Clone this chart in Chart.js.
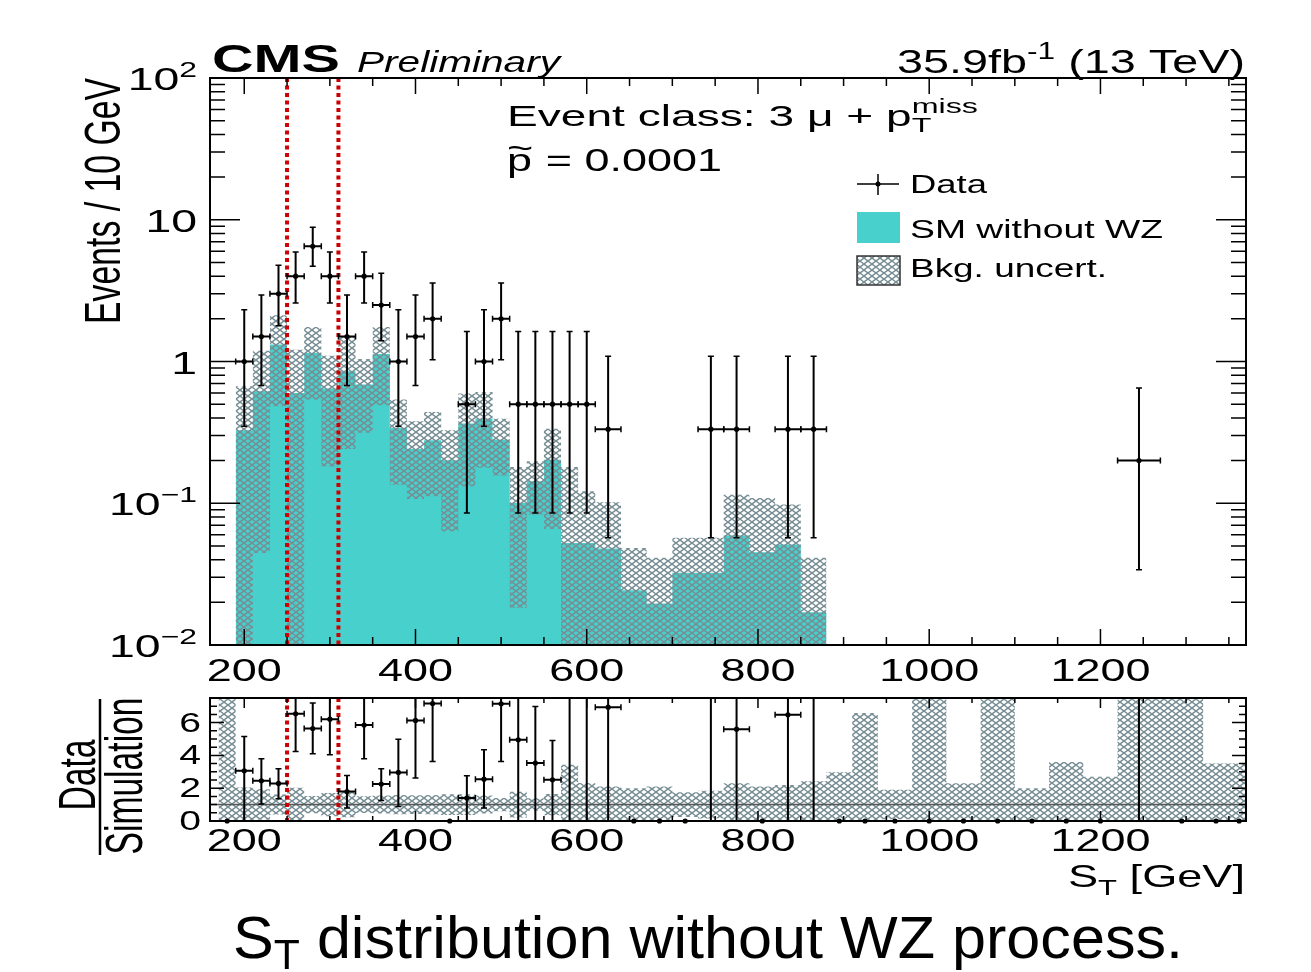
<!DOCTYPE html>
<html>
<head>
<meta charset="utf-8">
<script src="https://cdn.jsdelivr.net/npm/chart.js@4.4.0/dist/chart.umd.min.js"></script>
<style>
body { margin: 0; background: #fff; }
#wrap { position: relative; width: 1311px; height: 972px; }
canvas { position: absolute; left: 0; top: 0; }
</style>
</head>
<body>
<div id="wrap">
  <canvas id="ratio" width="1311" height="972"></canvas>
  <canvas id="main" width="1311" height="972"></canvas>
</div>
<script>
// ---- values ----
const xTickLabels = [200, 400, 600, 800, 1000, 1200];
const yTickDecades = [-2, -1, 0, 1, 2];
const ratioTickLabels = [0, 2, 4, 6];
const windowEdges = [250, 310]; // red dotted lines (GeV)

// simulation without WZ, events / 10 GeV, bins given by their edges
const mcEdges = [190, 210, 230, 250, 270, 290, 310, 330, 350, 370, 390, 410, 430, 450, 470, 490, 510, 530, 550, 570, 590, 610,
                 640, 670, 700, 730, 760, 790, 820, 850, 880];
const mcValues = [0.327, 0.617, 1.316, 0.600, 1.15, 0.644, 0.853, 0.687, 1.13, 0.340, 0.241, 0.278, 0.201, 0.365, 0.394, 0.281,
                  0.1006, 0.143, 0.203, 0.0525, 0.0525, 0.0479, 0.0243, 0.0196, 0.0323, 0.0323, 0.0592, 0.0451, 0.0511, 0.0170];
// background uncertainty band (0 = reaches below the axis)
const uncHigh = [0.668, 1.19, 2.12, 1.21, 1.75, 1.10, 1.51, 1.04, 1.75, 0.539, 0.379, 0.441, 0.327, 0.594, 0.610, 0.394,
                 0.180, 0.198, 0.335, 0.180, 0.1214, 0.1015, 0.0484, 0.0412, 0.057, 0.057, 0.115, 0.109, 0.0978, 0.0412];
const uncLow = [0, 0.0446, 0.483, 0, 0.539, 0.182, 0.241, 0.314, 0.491, 0.135, 0.107, 0.112, 0.0634, 0.132, 0.178, 0.157,
                0.0183, 0.0832, 0.0659, 0, 0, 0, 0, 0, 0, 0, 0, 0, 0, 0];

// data points
const dataX = [200, 220, 240, 260, 280, 300, 320, 340, 360, 380, 400, 420, 460, 480, 500, 520, 540, 560, 580, 600,
               625, 745, 775, 835, 865, 1245];
const dataHalfW = [10, 10, 10, 10, 10, 10, 10, 10, 10, 10, 10, 10, 10, 10, 10, 10, 10, 10, 10, 10, 15, 15, 15, 15, 15, 25];
const dataY = [1, 1.5, 3, 4, 6.5, 4, 1.5, 4, 2.5, 1, 1.5, 2, 0.5, 1, 2, 0.5, 0.5, 0.5, 0.5, 0.5,
               0.333, 0.333, 0.333, 0.333, 0.333, 0.2];
const dataLo = [0.349, 0.676, 1.79, 2.59, 4.69, 2.59, 0.676, 2.59, 1.40, 0.349, 0.676, 1.03, 0.0855, 0.349, 1.03, 0.0855,
                0.0855, 0.0855, 0.0855, 0.0855, 0.057, 0.057, 0.057, 0.057, 0.057, 0.034];
const dataHi = [2.32, 2.95, 4.77, 5.93, 8.84, 5.93, 2.95, 5.93, 4.19, 2.32, 2.95, 3.58, 1.63, 2.32, 3.58, 1.63,
                1.63, 1.63, 1.63, 1.63, 1.088, 1.088, 1.088, 1.088, 1.088, 0.651];

// ratio panel: data / simulation
const ratioX = [180, 200, 220, 240, 260, 280, 300, 320, 340, 360, 380, 400, 420, 440, 460, 480, 500, 520, 540, 560, 580, 600,
                625, 655, 685, 715, 745, 775, 805, 835, 865, 895, 925, 960, 1000, 1040, 1080, 1120, 1160, 1200, 1245, 1295, 1335, 1362];
const ratioHalfW = [10, 10, 10, 10, 10, 10, 10, 10, 10, 10, 10, 10, 10, 10, 10, 10, 10, 10, 10, 10, 10, 10,
                    15, 15, 15, 15, 15, 15, 15, 15, 15, 15, 15, 20, 20, 20, 20, 20, 20, 20, 25, 25, 15, 10];
const ratioY = [0, 3.06, 2.45, 2.29, 6.54, 5.64, 6.21, 1.80, 5.85, 2.25, 2.96, 6.13, 7.16, 0, 1.40, 2.55, 7.15, 4.95, 3.53, 2.51, 9.5, 9.5,
                6.94, 0, 0, 0, 10.3, 5.60, 0, 6.48, 19.6, 0, 0, 0, 0, 0, 0, 0, 0, 0, 50, 0, 0, 0];
const ratioLo = [0, 0, 1.03, 1.35, 4.24, 4.10, 4.04, 0.79, 3.79, 1.25, 0.88, 2.62, 3.63, 0, 0, 0.79, 3.63, 0, 0, 0, 0, 0,
                 0, 0, 0, 0, 0, 0, 0, 0, 0, 0, 0, 0, 0, 0, 0, 0, 0, 0, 0, 0, 0, 0];
const ratioHi = [0, 5.15, 3.79, 3.18, 9, 7.19, 9, 2.77, 9, 3.18, 4.99, 9, 9, 0, 2.76, 4.34, 9, 9, 6.98, 4.91, 9, 9,
                 9, 0, 0, 0, 11, 9, 0, 9, 20, 0, 0, 0, 0, 0, 0, 0, 0, 0, 60, 0, 0, 0];
// relative background uncertainty in the ratio panel (upper edge)
const bandEdges = [170, 190, 210, 230, 250, 270, 290, 310, 330, 350, 370, 390, 410, 430, 450, 470, 490, 510, 530, 550, 570, 590, 610,
                   640, 670, 700, 730, 760, 790, 820, 850, 880, 910, 940, 980, 1020, 1060, 1100, 1140, 1180, 1220, 1240, 1320, 1370];
const bandHigh = [9, 2.04, 1.93, 1.61, 2.02, 1.52, 1.71, 1.77, 1.51, 1.55, 1.59, 1.57, 1.59, 1.63, 1.63, 1.55, 1.40, 1.79, 1.38, 1.65, 3.43, 2.31,
                  2.1, 1.99, 2.10, 1.76, 1.85, 2.3, 2.1, 2.2, 2.42, 2.97, 6.58, 1.9, 9, 2.3, 9, 2.0, 3.6, 2.7, 9, 7.6, 3.5];

const FONT = '"Liberation Sans", Arial, Helvetica, sans-serif';
const CYAN = '#48d1cc';
const SX = 1.45; // the figure is stretched horizontally

function steps(edges, vals) {
    const pts = [];
    for (let i = 0; i < vals.length; i++) pts.push({x: edges[i], y: vals[i]});
    pts.push({x: edges[edges.length - 1], y: vals[vals.length - 1]});
    return pts;
}

function hatchPattern(ctx) {
    const c = document.createElement('canvas');
    c.width = 8; c.height = 6;
    const g = c.getContext('2d');
    g.strokeStyle = '#778d94';
    g.lineWidth = 1.4;
    g.beginPath();
    g.moveTo(-8, -6); g.lineTo(16, 12);
    g.moveTo(-8, 12); g.lineTo(16, -6);
    g.stroke();
    return ctx.createPattern(c, 'repeat');
}

function fontOf(p) {
    return (p.style || '') + ' ' + p.size + 'px ' + FONT;
}

// text made of pieces (for sub/superscripts), squeezed or stretched in x
function richText(ctx, parts, x, y, align, opt) {
    const widths = parts.map(function(p) {
        ctx.font = fontOf(p);
        let w = ctx.measureText(p.t).width;
        if (p.over) {
            ctx.font = fontOf(p.over);
            w = Math.max(w, ctx.measureText(p.over.t).width);
        }
        return w;
    });
    const total = widths.reduce((a, b) => a + b, 0);
    const sx = opt.width ? opt.width / total : (opt.sx || 1);
    let x0 = x;
    if (align === 'right') x0 = x - total * sx;
    else if (align === 'center') x0 = x - total * sx / 2;
    ctx.save();
    ctx.translate(x0, y);
    ctx.scale(sx, 1);
    ctx.textAlign = 'left';
    ctx.textBaseline = 'alphabetic';
    ctx.fillStyle = '#000';
    let cx = 0;
    parts.forEach(function(p, i) {
        ctx.font = fontOf(p);
        ctx.fillText(p.t, cx, p.dy || 0);
        if (p.over) {
            ctx.font = fontOf(p.over);
            ctx.fillText(p.over.t, cx, p.over.dy || 0);
        }
        cx += widths[i];
    });
    ctx.restore();
}

// rotated axis title, baseline on the right at bx
function vText(ctx, text, size, bx, cy, len, hs) {
    ctx.save();
    ctx.font = size + 'px ' + FONT;
    const w = ctx.measureText(text).width;
    ctx.translate(bx, cy);
    ctx.rotate(-Math.PI / 2);
    ctx.scale(len / w, hs);
    ctx.textAlign = 'center';
    ctx.textBaseline = 'alphabetic';
    ctx.fillStyle = '#000';
    ctx.fillText(text, 0, 0);
    ctx.restore();
}

function drawWindow(chart) {
    const {ctx, chartArea: a, scales: {x}} = chart;
    ctx.save();
    ctx.strokeStyle = '#cc0000';
    ctx.lineWidth = 4;
    ctx.setLineDash([4, 3.5]);
    windowEdges.forEach(function(v) {
        const px = x.getPixelForValue(v);
        ctx.beginPath();
        ctx.moveTo(px, a.top);
        ctx.lineTo(px, a.bottom);
        ctx.stroke();
    });
    ctx.restore();
}

function drawErrors(chart, xs, hw, ys, lo, hi) {
    const {ctx, chartArea: a, scales: {x, y}} = chart;
    ctx.save();
    ctx.beginPath();
    ctx.rect(a.left, a.top, a.right - a.left, a.bottom - a.top);
    ctx.clip();
    ctx.strokeStyle = '#000';
    ctx.lineWidth = 2;
    for (let i = 0; i < xs.length; i++) {
        if (!(hi[i] > 0)) continue;
        const px = x.getPixelForValue(xs[i]);
        const py = y.getPixelForValue(ys[i]);
        const pLo = lo[i] > 0 ? y.getPixelForValue(lo[i]) : a.bottom + 5;
        const pHi = y.getPixelForValue(hi[i]);
        const xl = x.getPixelForValue(xs[i] - hw[i]);
        const xr = x.getPixelForValue(xs[i] + hw[i]);
        ctx.beginPath();
        ctx.moveTo(px, pLo); ctx.lineTo(px, pHi);
        ctx.moveTo(xl, py); ctx.lineTo(xr, py);
        ctx.stroke();
        ctx.lineWidth = 1.5;
        ctx.beginPath();
        ctx.moveTo(px - 3, pLo); ctx.lineTo(px + 3, pLo);
        ctx.moveTo(px - 3, pHi); ctx.lineTo(px + 3, pHi);
        ctx.moveTo(xl, py - 3); ctx.lineTo(xl, py + 3);
        ctx.moveTo(xr, py - 3); ctx.lineTo(xr, py + 3);
        ctx.stroke();
        ctx.lineWidth = 2;
    }
    ctx.restore();
}

function drawFrame(chart, xMaj, xMin, yTicks) {
    const {ctx, chartArea: a, scales: {x}} = chart;
    ctx.save();
    ctx.strokeStyle = '#000';
    ctx.lineWidth = 1.5;
    ctx.beginPath();
    for (let v = 200; v <= 1370; v += 50) {
        const px = x.getPixelForValue(v);
        const len = v % 200 === 0 ? xMaj : xMin;
        ctx.moveTo(px, a.bottom); ctx.lineTo(px, a.bottom - len);
        ctx.moveTo(px, a.top); ctx.lineTo(px, a.top + len);
    }
    yTicks.forEach(function(t) {
        ctx.moveTo(a.left, t.py); ctx.lineTo(a.left + t.len, t.py);
        ctx.moveTo(a.right, t.py); ctx.lineTo(a.right - t.len, t.py);
    });
    ctx.stroke();
    ctx.lineWidth = 2;
    ctx.strokeRect(a.left, a.top, a.right - a.left, a.bottom - a.top);
    ctx.restore();
}

const mainDecor = {
    id: 'mainDecor',
    afterDatasetsDraw(chart) {
        drawWindow(chart);
        drawErrors(chart, dataX, dataHalfW, dataY, dataLo, dataHi);
    },
    afterDraw(chart) {
        const {ctx, chartArea: a, scales: {x, y}} = chart;
        const yTicks = [];
        for (let d = -2; d < 2; d++) {
            for (let k = 1; k < 10; k++) {
                yTicks.push({py: y.getPixelForValue(k * Math.pow(10, d)), len: k === 1 ? 30 : 15});
            }
        }
        yTicks.push({py: y.getPixelForValue(100), len: 30});
        drawFrame(chart, 16, 8, yTicks);

        xTickLabels.forEach(function(v) {
            richText(ctx, [{t: String(v), size: 31}], x.getPixelForValue(v), 681, 'center', {sx: SX});
        });
        yTickDecades.forEach(function(d) {
            let parts;
            if (d === 0) parts = [{t: '1', size: 32}];
            else if (d === 1) parts = [{t: '10', size: 32}];
            else parts = [{t: '10', size: 32}, {t: d > 0 ? String(d) : '\u2212' + (-d), size: 22, dy: -13}];
            richText(ctx, parts, 197, y.getPixelForValue(Math.pow(10, d)) + 12, 'right', {sx: SX});
        });

        vText(ctx, 'Events / 10 GeV', 35, 120, 201, 246, 1.45);

        // header
        richText(ctx, [{t: 'CMS', size: 38, style: 'bold'}], 212, 72, 'left', {width: 128});
        richText(ctx, [{t: 'Preliminary', size: 29, style: 'italic'}], 357, 72, 'left', {width: 203});
        richText(ctx, [{t: '35.9fb', size: 34}, {t: '-1', size: 23, dy: -14}, {t: ' (13 TeV)', size: 34}],
                 1245, 73, 'right', {width: 348});
        richText(ctx, [{t: 'Event class: 3 \u03bc + p', size: 30},
                       {t: 'T', size: 21, dy: 6, over: {t: 'miss', size: 21, dy: -13}}],
                 507, 126, 'left', {width: 471});
        richText(ctx, [{t: 'p', size: 31, over: {t: '~', size: 31, dy: -12}}, {t: ' = 0.0001', size: 31}],
                 507, 171, 'left', {width: 215});

        // legend
        ctx.save();
        ctx.strokeStyle = '#000';
        ctx.lineWidth = 1.5;
        ctx.beginPath();
        ctx.moveTo(857, 184); ctx.lineTo(899, 184);
        ctx.moveTo(878, 174); ctx.lineTo(878, 195);
        ctx.stroke();
        ctx.fillStyle = '#000';
        ctx.beginPath(); ctx.arc(878, 184, 2.5, 0, Math.PI * 2); ctx.fill();
        ctx.fillStyle = CYAN;
        ctx.fillRect(857, 212, 43, 31);
        ctx.fillStyle = chart.data.datasets[1].backgroundColor;
        ctx.fillRect(857, 256, 43, 29);
        ctx.strokeStyle = '#333';
        ctx.strokeRect(857, 256, 43, 29);
        ctx.restore();
        richText(ctx, [{t: 'Data', size: 26}], 910, 193, 'left', {width: 77});
        richText(ctx, [{t: 'SM without WZ', size: 26}], 910, 238, 'left', {width: 253});
        richText(ctx, [{t: 'Bkg. uncert.', size: 26}], 910, 277, 'left', {width: 197});
    }
};

const ratioDecor = {
    id: 'ratioDecor',
    afterDatasetsDraw(chart) {
        drawWindow(chart);
        drawErrors(chart, ratioX, ratioHalfW, ratioY, ratioLo, ratioHi);
    },
    afterDraw(chart) {
        const {ctx, scales: {x, y}} = chart;
        const yTicks = [];
        for (let v = 0; v <= 7.5; v += 0.5) {
            yTicks.push({py: y.getPixelForValue(v), len: v % 2 === 0 ? 14 : 7});
        }
        drawFrame(chart, 10, 5, yTicks);

        xTickLabels.forEach(function(v) {
            richText(ctx, [{t: String(v), size: 31}], x.getPixelForValue(v), 851, 'center', {sx: SX});
        });
        ratioTickLabels.forEach(function(v) {
            richText(ctx, [{t: String(v), size: 27}], 201, y.getPixelForValue(v) + 9, 'right', {sx: SX});
        });
        richText(ctx, [{t: 'S', size: 32}, {t: 'T', size: 22, dy: 8}, {t: ' [GeV]', size: 32}],
                 1245, 887, 'right', {width: 177});

        vText(ctx, 'Data', 34, 95, 775, 71, 1.5);
        vText(ctx, 'Simulation', 34, 142, 776, 157, 1.5);
        ctx.save();
        ctx.strokeStyle = '#000';
        ctx.lineWidth = 2.5;
        ctx.beginPath();
        ctx.moveTo(100, 699); ctx.lineTo(100, 855);
        ctx.stroke();
        ctx.restore();

        // caption under the figure
        richText(ctx, [{t: 'S', size: 60}, {t: 'T', size: 42, dy: 11}, {t: ' distribution without WZ process.', size: 60}],
                 708, 958, 'center', {width: 950});
    }
};

const mainCanvas = document.getElementById('main');
const ratioCanvas = document.getElementById('ratio');
const lineBase = {stepped: true, borderWidth: 0, borderColor: 'rgba(0,0,0,0)', pointRadius: 0};

new Chart(mainCanvas, {
    type: 'line',
    data: {
        datasets: [
            {data: dataX.map((v, i) => ({x: v, y: dataY[i]})), showLine: false, pointRadius: 2.6,
             pointBackgroundColor: '#000', pointBorderWidth: 0},
            Object.assign({data: steps(mcEdges, uncHigh), fill: '+1', backgroundColor: hatchPattern(mainCanvas.getContext('2d'))}, lineBase),
            Object.assign({data: steps(mcEdges, uncLow.map(v => v > 0 ? v : 1e-3)), fill: false}, lineBase),
            Object.assign({data: steps(mcEdges, mcValues), fill: 'start', backgroundColor: CYAN}, lineBase)
        ]
    },
    options: {
        responsive: false,
        animation: false,
        devicePixelRatio: 1,
        events: [],
        layout: {padding: {left: 210, top: 78, right: 65, bottom: 327}},
        plugins: {legend: {display: false}, tooltip: {enabled: false}},
        scales: {
            x: {type: 'linear', min: 160, max: 1370, display: false},
            y: {type: 'logarithmic', min: 0.01, max: 100, display: false}
        }
    },
    plugins: [mainDecor]
});

new Chart(ratioCanvas, {
    type: 'line',
    data: {
        datasets: [
            {data: ratioX.map((v, i) => ({x: v, y: ratioY[i]})), showLine: false, pointRadius: 2.6,
             pointBackgroundColor: '#000', pointBorderWidth: 0, clip: {left: 5, top: 0, right: 5, bottom: 5}},
            {data: [{x: 160, y: 1}, {x: 1370, y: 1}], borderColor: '#555', borderWidth: 1.5, pointRadius: 0, fill: false},
            Object.assign({data: steps(bandEdges, bandHigh), fill: '+1', backgroundColor: hatchPattern(ratioCanvas.getContext('2d'))}, lineBase),
            Object.assign({data: steps(bandEdges, bandHigh.map(h => Math.max(0, 2 - h))), fill: false}, lineBase)
        ]
    },
    options: {
        responsive: false,
        animation: false,
        devicePixelRatio: 1,
        events: [],
        layout: {padding: {left: 210, top: 698, right: 65, bottom: 151}},
        plugins: {legend: {display: false}, tooltip: {enabled: false}},
        scales: {
            x: {type: 'linear', min: 160, max: 1370, display: false},
            y: {type: 'linear', min: 0, max: 7.5, display: false}
        }
    },
    plugins: [ratioDecor]
});
</script>
</body>
</html>
